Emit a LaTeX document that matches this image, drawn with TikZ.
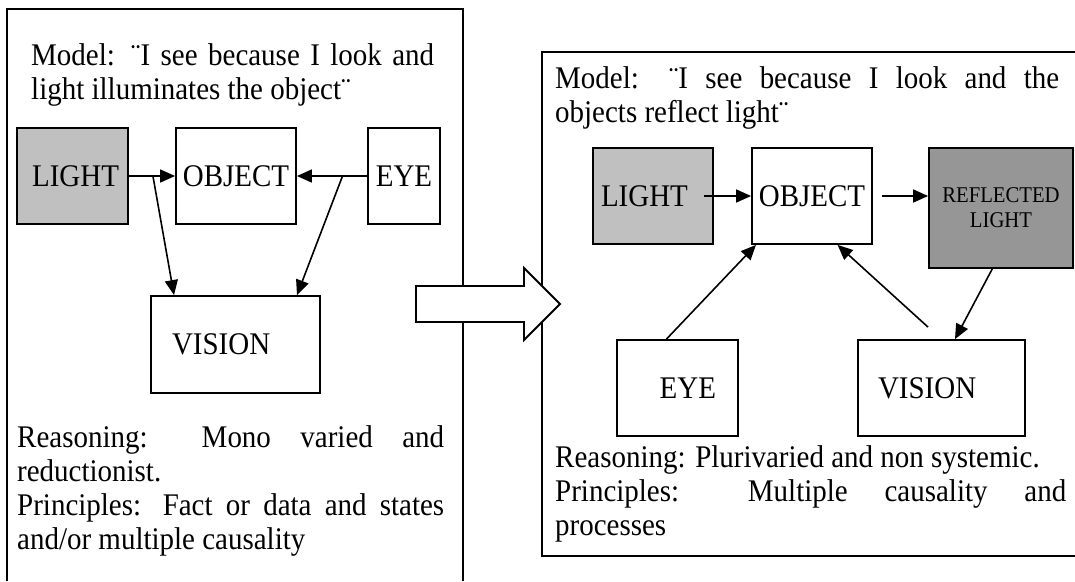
\documentclass[tikz,border=0pt]{standalone}
\usepackage{fontspec}
\setmainfont{Liberation Serif}[FakeStretch=0.92]
\usetikzlibrary{calc,arrows.meta}

\definecolor{lightfill}{RGB}{192,192,192}
\definecolor{reflectfill}{RGB}{150,150,150}
\hyphenpenalty=10000
\tolerance=10000

\begin{document}
\begin{tikzpicture}[x=1pt,y=-1pt,
  box/.style={draw,line width=1.8pt,inner sep=0pt,minimum height=96pt,
    font=\fontsize{31.5}{34}\selectfont},
  para/.style={anchor=north west,inner sep=0pt,align=justify,
    font=\fontsize{31.5}{34}\selectfont},
  conn/.style={line width=1.6pt,-{Triangle[length=15pt,width=13pt]}}]
  \path[use as bounding box,fill=white] (0,0) rectangle (1075,581);

  % first model
  \draw[line width=1.8pt] (7,581) -- (7,9) -- (463,9) -- (463,581);
  \node[para,text width=403pt] (modelL) at (31,43.5)
    {Model: ¨I see because I look and\linebreak light illuminates the object¨};
  \node[box,fill=lightfill,minimum width=111pt,text width=93pt,align=right] (lightL) at (72.5,176) {LIGHT};
  \node[box,minimum width=120pt] (objectL) at (236,176) {OBJECT};
  \node[box,minimum width=72pt] (eyeL) at (404,176) {EYE};
  \node[box,minimum width=169pt,minimum height=97pt,text width=127pt,align=left] (visionL) at (235.5,344.5) {VISION};
  \node[para,text width=427pt] (reasonL) at (17,425.5)
    {Reasoning: Mono varied and\linebreak reductionist.\\
     Principles: Fact or data and states\linebreak and/or multiple causality};

  \draw[conn] (lightL.east) -- (objectL.west);
  \draw[conn] (eyeL.west) -- (objectL.east);
  \draw[conn] ($(lightL.east)!0.52!(objectL.west)$) -- ($(visionL.north west)!0.14!(visionL.north east)$);
  \draw[conn] ($(objectL.east)!0.65!(eyeL.west)$) -- ($(visionL.north west)!0.86!(visionL.north east)$);

  % second model
  \draw[line width=1.8pt] (1080,52) -- (542,52) -- (542,556) -- (1080,556);
  \node[para,text width=504pt] (modelR) at (555,66.5)
    {Model: ¨I see because I look and the\linebreak objects reflect light¨};
  \node[box,fill=lightfill,minimum width=120pt,text width=104pt,align=left] (lightR) at (653,196) {LIGHT};
  \node[box,minimum width=120pt] (objectR) at (812,196) {OBJECT};
  \node[box,fill=reflectfill,minimum width=144pt,minimum height=120pt,align=center,
    font=\fontsize{22.5}{25}\selectfont] (reflR) at (1001,208) {REFLECTED\\LIGHT};
  \node[box,minimum width=121pt,text width=77pt,align=right] (eyeR) at (677.5,388) {EYE};
  \node[box,minimum width=167pt,text width=127pt,align=left] (visionR) at (941.5,388) {VISION};
  \node[para,text width=511pt] (reasonR) at (555,445.5)
    {Reasoning: Plurivaried and non systemic.\\
     Principles: Multiple causality and\linebreak processes};

  \draw[conn] ($(lightR.east)+(-10,0)$) -- (objectR.west);
  \draw[conn] ($(objectR.east)+(9,0)$) -- (reflR.west |- objectR.east);
  \draw[conn] ($(eyeR.north west)!0.41!(eyeR.north east)$) -- ($(objectR.south west)!0.04!(objectR.south east)$);
  \draw[conn] ($(visionR.north west)!0.42!(visionR.north east)+(0,-12)$) -- ($(objectR.south west)!0.71!(objectR.south east)$);
  \draw[conn] ($(reflR.south west)!0.44!(reflR.south east)$) -- ($(visionR.north west)!0.58!(visionR.north east)$);

  % block arrow between the models
  \draw[line width=1.8pt,fill=white] (416,286) -- (524,286) -- (524,268) -- (560,304)
    -- (524,340) -- (524,322) -- (416,322) -- cycle;
\end{tikzpicture}
\end{document}
